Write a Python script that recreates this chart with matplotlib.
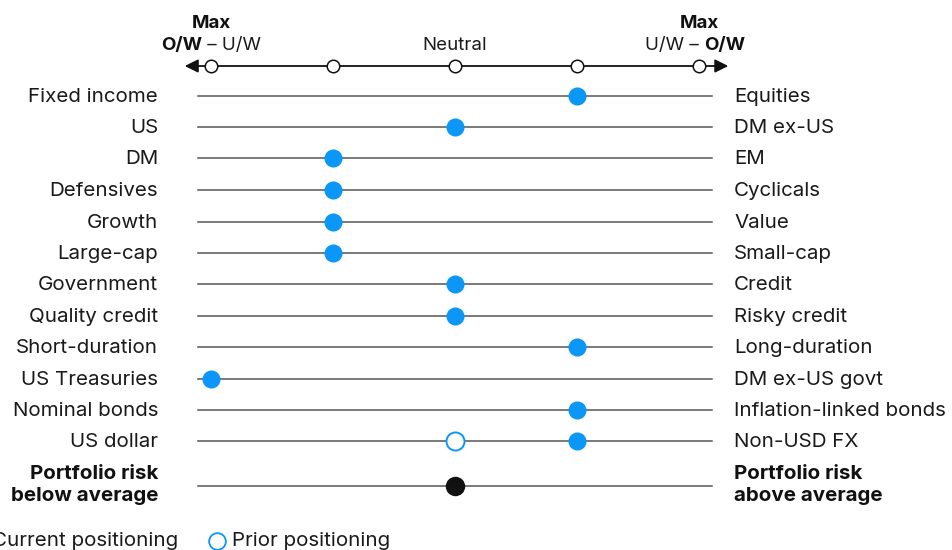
import numpy as np
import matplotlib.pyplot as plt

plt.rcParams['font.family'] = ['Inter', 'DejaVu Sans']

left_labels = ['Fixed income', 'US', 'DM', 'Defensives', 'Growth', 'Large-cap',
               'Government', 'Quality credit', 'Short-duration', 'US Treasuries',
               'Nominal bonds', 'US dollar']
right_labels = ['Equities', 'DM ex-US', 'EM', 'Cyclicals', 'Value', 'Small-cap',
                'Credit', 'Risky credit', 'Long-duration', 'DM ex-US govt',
                'Inflation-linked bonds', 'Non-USD FX']
current = [1, 0, -1, -1, -1, -1, 0, 0, 1, -2, 1, 1]
prior = [None, None, None, None, None, None, None, None, None, None, None, 0]
risk_current = 0
scale_ticks = [-2, -1, 0, 1, 2]

blue = '#0a97f7'
dark = '#111111'
grey = '#555555'

fig = plt.figure(figsize=(9.52, 5.5), dpi=100)
ax = fig.add_axes([0, 0, 1, 1])
# x in scale units (122 px per step, neutral at px 455), y in pixels from top
ax.set_xlim(-2 - 211 / 122, 2 + 253 / 122)
ax.set_ylim(550, 0)
ax.axis('off')

row_y = [96, 127, 158, 190, 222, 253, 284, 316, 347, 379, 410, 441]
risk_y = 486
fs = 14.8
tc = '#1a1a1a'

for i, y in enumerate(row_y):
    ax.plot([-2.107, 2.107], [y, y], color=grey, lw=1.1, zorder=1)
    ax.text(-2.434, y + 1, left_labels[i], ha='right', va='center', fontsize=fs, color=tc)
    ax.text(2.287, y + 1, right_labels[i], ha='left', va='center', fontsize=fs, color=tc)
    if prior[i] is not None:
        ax.plot(prior[i], y, 'o', ms=13, mfc='white', mec=blue, mew=1.4, zorder=3)
    ax.plot(current[i], y, 'o', ms=13, color=blue, mec='none', zorder=4)

ax.plot([-2.107, 2.107], [risk_y, risk_y], color=grey, lw=1.1, zorder=1)
ax.text(-2.434, risk_y - 1, 'Portfolio risk\nbelow average', ha='right', va='center',
        fontsize=fs, fontweight='bold', color=dark, linespacing=1.25)
ax.text(2.287, risk_y - 1, 'Portfolio risk\nabove average', ha='left', va='center',
        fontsize=fs, fontweight='bold', color=dark, linespacing=1.25)
ax.plot(risk_current, risk_y, 'o', ms=14, color=dark, mec='none', zorder=4)

# header scale
hy = 66
ax.annotate('', xy=(-2.215, hy), xytext=(0, hy),
            arrowprops=dict(arrowstyle='-|>', color=dark, lw=1.3, mutation_scale=20, shrinkA=0, shrinkB=0))
ax.annotate('', xy=(2.24, hy), xytext=(0, hy),
            arrowprops=dict(arrowstyle='-|>', color=dark, lw=1.3, mutation_scale=20, shrinkA=0, shrinkB=0))
ax.plot(scale_ticks, [hy] * len(scale_ticks), 'o', ms=9, mfc='white', mec=dark, mew=1.1, zorder=3)

hfs = 13.5
ax.text(0, 45, 'Neutral', ha='center', va='center', fontsize=hfs, color=tc)
ax.text(-2, 23, 'Max', ha='center', va='center', fontsize=hfs, fontweight='bold', color=dark)
ax.text(2, 23, 'Max', ha='center', va='center', fontsize=hfs, fontweight='bold', color=dark)
ax.text(-2.07, 45, 'O/W', ha='right', va='center', fontsize=hfs, fontweight='bold', color=dark)
ax.text(-2.07, 45, ' – U/W', ha='left', va='center', fontsize=hfs, color=tc)
ax.text(2.04, 45, 'U/W – ', ha='right', va='center', fontsize=hfs, color=tc)
ax.text(2.04, 45, 'O/W', ha='left', va='center', fontsize=hfs, fontweight='bold', color=dark)

# legend (partly cut off at left edge, as in the source)
ly = 541
ax.plot(-2 - 232 / 122, ly, 'o', ms=12, color=blue, mec='none', clip_on=False)
ax.text(-2 - 219 / 122, ly, 'Current positioning', ha='left', va='center', fontsize=fs, color=tc)
ax.plot(-2 + 6 / 122, ly, 'o', ms=12, mfc='white', mec=blue, mew=1.3)
ax.text(-2 + 21 / 122, ly, 'Prior positioning', ha='left', va='center', fontsize=fs, color=tc)

fig.savefig('out.png', dpi=100)
